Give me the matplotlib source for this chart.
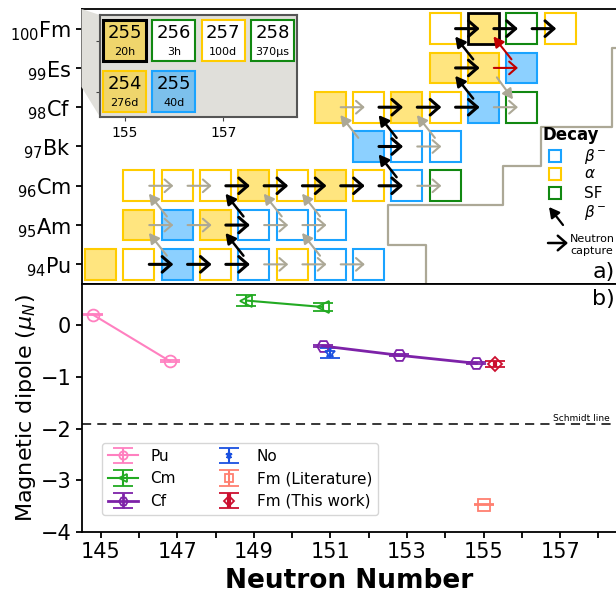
import numpy as np
import matplotlib.pyplot as plt
from matplotlib.patches import Rectangle, Polygon

# nuclide chart (panel a)
cell_z = [94]*8 + [95]*6 + [96]*9 + [97]*3 + [98]*6 + [99]*3 + [100]*4
cell_n = [145, 146, 147, 148, 149, 150, 151, 152,
          146, 147, 148, 149, 150, 151,
          146, 147, 148, 149, 150, 151, 152, 153, 154,
          152, 153, 154,
          151, 152, 153, 154, 155, 156,
          154, 155, 156,
          154, 155, 156, 157]
cell_decay = ['a', 'a', 'b', 'a', 'b', 'a', 'b', 'b',
              'a', 'b', 'a', 'b', 'b', 'b',
              'a', 'a', 'a', 'a', 'a', 'a', 'a', 'b', 'sf',
              'b', 'b', 'b',
              'a', 'a', 'a', 'a', 'b', 'sf',
              'a', 'a', 'b',
              'a', 'a', 'sf', 'a']
cell_filled = [1, 0, 1, 0, 0, 0, 0, 0,
               1, 1, 1, 0, 0, 0,
               0, 0, 0, 1, 0, 1, 0, 0, 0,
               1, 0, 0,
               1, 0, 1, 0, 1, 0,
               1, 1, 1,
               0, 1, 0, 0]

# neutron capture arrows: start nucleus (N, Z) and path
capt_n = [146, 147, 148, 149, 150, 151,
          146, 147, 148, 149, 150,
          146, 147, 148, 149, 150, 151, 152, 153,
          152, 153,
          151, 152, 153, 154, 155,
          154, 155,
          154, 155, 156]
capt_z = [94]*6 + [95]*5 + [96]*8 + [97]*2 + [98]*5 + [99]*2 + [100]*3
capt_path = ['k', 'k', 'k', 'g', 'g', 'g',
             'g', 'g', 'k', 'g', 'g',
             'g', 'g', 'k', 'k', 'k', 'k', 'k', 'g',
             'k', 'g',
             'g', 'k', 'k', 'k', 'g',
             'k', 'r',
             'k', 'k', 'k']

# beta- decay arrows: mother nucleus (N, Z)
beta_n = [147, 149, 151, 147, 149, 150, 151, 153, 152, 153, 154, 155, 155, 156]
beta_z = [94, 94, 94, 95, 95, 95, 95, 96, 97, 97, 97, 98, 99, 99]
beta_path = ['g', 'k', 'g', 'g', 'k', 'g', 'g', 'k', 'g', 'k', 'g', 'k', 'k', 'r']

# EC branch 254Es -> 254Cf
ec_n, ec_z = 155, 99

# limit of known nuclides
bound_n = [153.5, 153.5, 152.5, 152.5, 155.5, 155.5, 156.5, 156.5, 158.35, 158.35, 159.0]
bound_z = [93.5, 94.5, 94.5, 95.5, 95.5, 96.5, 96.5, 97.5, 97.5, 99.5, 99.5]

elements = ['Pu', 'Am', 'Cm', 'Bk', 'Cf', 'Es', 'Fm']
z_values = [94, 95, 96, 97, 98, 99, 100]

# inset
ins_n = [155, 156, 157, 158, 155, 156]
ins_z = [100, 100, 100, 100, 99, 99]
ins_a = [255, 256, 257, 258, 254, 255]
ins_half = ['20h', '3h', '100d', '370μs', '276d', '40d']
ins_decay = ['a', 'sf', 'a', 'sf', 'a', 'b']
ins_filled = [1, 0, 0, 0, 1, 1]

# magnetic dipole moments (panel b)
pu_n = [144.8, 146.8]
pu_mu = [0.205, -0.69]
pu_err = [0.01, 0.015]
cm_n = [148.8, 150.8]
cm_mu = [0.48, 0.355]
cm_err = [0.1, 0.07]
cf_n = [150.8, 152.8, 154.8]
cf_mu = [-0.40, -0.58, -0.735]
cf_err = [0.02, 0.02, 0.02]
no_n = [151.0]
no_mu = [-0.535]
no_err = [0.105]
fml_n = [155.0]
fml_mu = [-3.47]
fml_err = [0.01]
fmt_n = [155.3]
fmt_mu = [-0.755]
fmt_err = [0.06]
schmidt = -1.91

dec_col = {'b': '#1aa3ff', 'a': '#ffcc00', 'sf': '#118811'}
grey = '#aca896'
arr_col = {'k': 'black', 'g': grey, 'r': '#c00000'}
inset_bg = '#e0dfda'

W, H = 616, 597
fig = plt.figure(figsize=(6.16, 5.97), dpi=100)

def px_fig(x, y):
    return x / W, 1 - y / H

ax1 = fig.add_axes([81.5/W, 1-284/H, 536/W, 275/H])
ax2 = fig.add_axes([81.5/W, 1-532/H, 536/W, 248/H])

# ---- panel a ----
cw, ch = 0.81, 0.78
for n, z, d, f in zip(cell_n, cell_z, cell_decay, cell_filled):
    ec = dec_col[d]
    lw = 1.5
    if n == 155 and z == 100:
        ec, lw = 'black', 2.0
    ax1.add_patch(Rectangle((n - cw/2, z - ch/2), cw, ch, facecolor='white', edgecolor='none', zorder=2))
    if f:
        ax1.add_patch(Rectangle((n - cw/2, z - ch/2), cw, ch, facecolor=dec_col[d], alpha=0.5, edgecolor='none', zorder=2))
    ax1.add_patch(Rectangle((n - cw/2, z - ch/2), cw, ch, facecolor='none', edgecolor=ec, lw=lw, zorder=3))

ax1.plot(bound_n, bound_z, color=grey, lw=1.6, zorder=1, clip_on=False)

beta_style = '-|>, head_length=0.55, head_width=0.3'
for n, z, p in zip(capt_n, capt_z, capt_path):
    lw = 2.2 if p == 'k' else 1.5
    ms = 16 if p == 'k' else 13
    ax1.annotate('', xy=(n + 0.9, z), xytext=(n + 0.27, z),
                 arrowprops=dict(arrowstyle='->, head_length=0.4, head_width=0.35', color=arr_col[p],
                                 lw=lw, shrinkA=0, shrinkB=0, mutation_scale=ms), zorder=5)

for n, z, p in zip(beta_n, beta_z, beta_path):
    lw = 1.8 if p == 'k' else 1.5
    ax1.annotate('', xy=(n - 0.74, z + 0.8), xytext=(n - 0.27, z + 0.22),
                 arrowprops=dict(arrowstyle=beta_style, color=arr_col[p],
                                 lw=lw, shrinkA=0, shrinkB=0, mutation_scale=11), zorder=5)

ax1.annotate('', xy=(ec_n + 0.77, ec_z - 0.8), xytext=(ec_n + 0.35, ec_z - 0.24),
             arrowprops=dict(arrowstyle=beta_style, color=grey,
                             lw=1.5, shrinkA=0, shrinkB=0, mutation_scale=11), zorder=5)

ax1.set_xlim(144.5, 158.5)
ax1.set_ylim(93.5, 100.5)
ax1.set_yticks(z_values)
ax1.set_yticklabels([r'$_{%d}$%s' % (z, e) for z, e in zip(z_values, elements)], fontsize=15)
ax1.set_xticks(range(146, 159, 2))
ax1.set_xticklabels([])
ax1.tick_params(length=4, width=1.3)
for s in ax1.spines.values():
    s.set_linewidth(1.3)
ax1.spines['right'].set_visible(False)

# decay legend
def fa(x, y):
    return (x - 81.5) / 536, (284 - y) / 275

ax1.text(*fa(542, 135), 'Decay', fontsize=12, fontweight='bold', ha='left', va='center', transform=ax1.transAxes)
for d, y, lab in zip(['b', 'a', 'sf'], [156, 174, 193], [r'$\beta^-$', r'$\alpha$', 'SF']):
    ax1.plot(*fa(555, y), marker='s', ms=9, mfc='white', mec=dec_col[d], mew=1.5, transform=ax1.transAxes, clip_on=False)
    ax1.text(*fa(584, y), lab, fontsize=11, ha='left', va='center', transform=ax1.transAxes)
ax1.annotate('', xy=fa(549, 207), xytext=fa(563, 225), xycoords='axes fraction', textcoords='axes fraction',
             arrowprops=dict(arrowstyle=beta_style, color='black', lw=1.6,
                             shrinkA=0, shrinkB=0, mutation_scale=11))
ax1.text(*fa(584, 213), r'$\beta^-$', fontsize=11, ha='left', va='center', transform=ax1.transAxes)
ax1.annotate('', xy=fa(568, 243), xytext=fa(548, 243), xycoords='axes fraction', textcoords='axes fraction',
             arrowprops=dict(arrowstyle='->, head_length=0.4, head_width=0.35', color='black', lw=1.8,
                             shrinkA=0, shrinkB=0, mutation_scale=15))
ax1.text(*fa(592, 245), 'Neutron\ncapture', fontsize=8, ha='center', va='center', linespacing=1.3,
         transform=ax1.transAxes)
ax1.text(*fa(615, 282), 'a)', fontsize=16, ha='right', va='bottom', transform=ax1.transAxes)

# inset
fig.add_artist(Polygon([px_fig(81.5, 9), px_fig(100, 15), px_fig(100, 117), px_fig(81.5, 87)],
                       closed=True, facecolor=inset_bg, edgecolor='none', zorder=1))
axi = fig.add_axes([100/W, 1-117/H, 197/W, 102/H], zorder=3)
axi.set_facecolor(inset_bg)
iw, ih = 0.87, 0.82
for n, z, a, t, d, f in zip(ins_n, ins_z, ins_a, ins_half, ins_decay, ins_filled):
    ec = dec_col[d]
    lw = 1.5
    if n == 155 and z == 100:
        ec, lw = 'black', 2.2
    axi.add_patch(Rectangle((n - iw/2, z - ih/2), iw, ih, facecolor='white', edgecolor='none'))
    if f:
        axi.add_patch(Rectangle((n - iw/2, z - ih/2), iw, ih, facecolor=inset_bg, edgecolor='none'))
        axi.add_patch(Rectangle((n - iw/2, z - ih/2), iw, ih, facecolor=dec_col[d], alpha=0.5, edgecolor='none'))
    axi.add_patch(Rectangle((n - iw/2, z - ih/2), iw, ih, facecolor='none', edgecolor=ec, lw=lw))
    axi.text(n, z + 0.15, str(a), fontsize=13, ha='center', va='center')
    axi.text(n, z - 0.22, t, fontsize=8, ha='center', va='center')
axi.set_xlim(154.5, 158.5)
axi.set_ylim(98.5, 100.5)
axi.set_xticks([155, 157])
axi.set_yticks([99, 100])
axi.set_yticklabels([])
axi.tick_params(labelsize=10, length=3, color='#444444')
for s in axi.spines.values():
    s.set_color('#555555')
    s.set_linewidth(1.5)

# ---- panel b ----
kw = dict(mfc='none', capsize=7, capthick=2, mew=1.3)
h_pu = ax2.errorbar(pu_n, pu_mu, yerr=pu_err, fmt='-o', color='#ff80c0', ms=8.5, lw=1.5, label='Pu', **kw)
h_cm = ax2.errorbar(cm_n, cm_mu, yerr=cm_err, fmt='-<', color='#22aa22', ms=8, lw=1.5, label='Cm', **kw)
h_cf = ax2.errorbar(cf_n, cf_mu, yerr=cf_err, fmt='-H', color='#7d22a8', ms=9, lw=2, label='Cf', **kw)
h_no = ax2.errorbar(no_n, no_mu, yerr=no_err, fmt='*', color='#1a50e0', ms=7, label='No', **kw)
h_fl = ax2.errorbar(fml_n, fml_mu, yerr=fml_err, fmt='s', color='#ff7f70', ms=8, label='Fm (Literature)', **kw)
h_ft = ax2.errorbar(fmt_n, fmt_mu, yerr=fmt_err, fmt='D', color='#cc1030', ms=7, elinewidth=3,
                    label='Fm (This work)', **kw)

ax2.axhline(schmidt, color='black', ls='--', lw=1.1, dashes=(6, 4))
ax2.text((610 - 81.5) / 536, schmidt + 0.02, 'Schmidt line', fontsize=6.5, ha='right', va='bottom',
         transform=ax2.get_yaxis_transform())
ax2.text(*((615 - 81.5) / 536, (532 - 299) / 248), 'b)', fontsize=16, ha='right', va='center',
         transform=ax2.transAxes)

ax2.set_xlim(144.5, 158.5)
ax2.set_ylim(-4, 0.8)
ax2.set_xticks(range(145, 159))
ax2.set_xticklabels([str(n) if n % 2 == 1 else '' for n in range(145, 159)], fontsize=15)
ax2.set_yticks([0, -1, -2, -3, -4])
ax2.tick_params(axis='y', labelsize=15)
ax2.tick_params(length=4, width=1.3)
for s in ax2.spines.values():
    s.set_linewidth(1.3)
ax2.spines['right'].set_visible(False)
ax2.set_xlabel('Neutron Number', fontsize=19, fontweight='bold', labelpad=4)
ax2.set_ylabel(r'Magnetic dipole ($\mu_N$)', fontsize=16, labelpad=2)

ax2.legend(handles=[h_pu, h_cm, h_cf, h_no, h_fl, h_ft], ncol=2, fontsize=11, loc='lower left',
           bbox_to_anchor=(20 / 536, 17 / 248), borderaxespad=0, markerscale=0.7, columnspacing=2.5)

fig.savefig('out.png', dpi=100)
